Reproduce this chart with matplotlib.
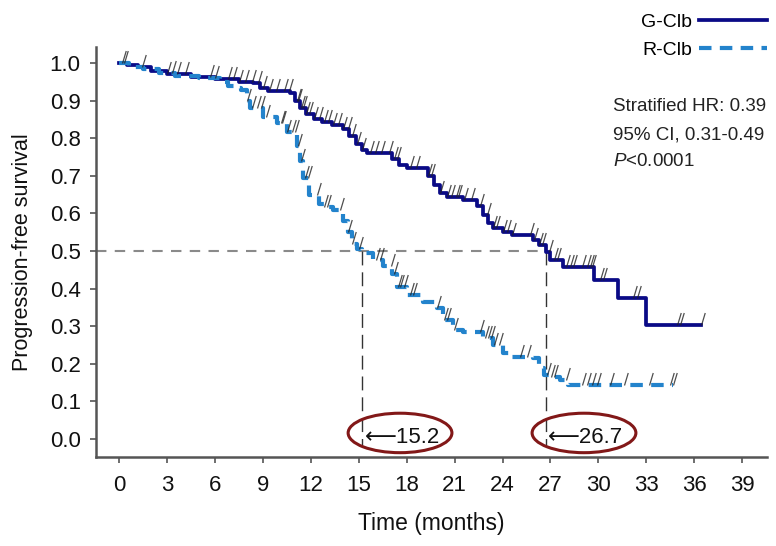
import numpy as np
import matplotlib
matplotlib.use("Agg")
import matplotlib.pyplot as plt
from matplotlib.patches import Ellipse

plt.rcParams['font.family'] = ['Liberation Sans', 'DejaVu Sans']
plt.rcParams['mathtext.fontset'] = 'custom'
plt.rcParams['mathtext.it'] = 'Liberation Sans:italic'
plt.rcParams['mathtext.rm'] = 'Liberation Sans'

# Kaplan-Meier steps (time in months, survival)
g_time = [0, 0.5, 1.2, 2.0, 3.0, 4.5, 6.0, 7.5, 8.4, 8.8, 9.3, 10.7, 11.0, 11.3, 11.7,
          12.2, 12.7, 13.3, 14.0, 14.4, 14.8, 15.2, 15.5, 17.1, 17.5, 18.0, 19.3, 19.7,
          20.1, 20.5, 21.5, 22.4, 22.8, 23.1, 23.4, 24.0, 24.6, 25.9, 26.3, 26.7, 27.0,
          27.8, 29.7, 31.2, 33.0]
g_surv = [1.0, 0.995, 0.99, 0.98, 0.97, 0.962, 0.957, 0.95, 0.947, 0.935, 0.925, 0.92,
          0.9, 0.88, 0.865, 0.85, 0.843, 0.835, 0.825, 0.805, 0.785, 0.77, 0.76, 0.745,
          0.73, 0.72, 0.70, 0.675, 0.655, 0.644, 0.635, 0.62, 0.595, 0.575, 0.56, 0.55,
          0.543, 0.53, 0.515, 0.497, 0.476, 0.458, 0.423, 0.375, 0.303]
g_end = 36.4

r_time = [0, 0.6, 1.5, 2.5, 3.5, 5.0, 6.3, 6.8, 7.3, 7.6, 8.0, 8.2, 9.0, 9.9, 10.5,
          11.1, 11.3, 11.5, 11.9, 12.5, 12.8, 13.4, 14.0, 14.3, 14.6, 14.9, 15.2, 15.9,
          16.5, 17.1, 17.4, 18.0, 19.0, 19.9, 20.3, 20.9, 21.5, 22.8, 23.4, 24.0, 24.5,
          25.9, 26.3, 26.6, 27.0, 27.6, 28.1]
r_surv = [1.0, 0.99, 0.985, 0.975, 0.965, 0.96, 0.95, 0.94, 0.933, 0.928, 0.9, 0.88,
          0.856, 0.84, 0.816, 0.78, 0.74, 0.694, 0.649, 0.625, 0.617, 0.609, 0.58, 0.55,
          0.52, 0.505, 0.494, 0.476, 0.46, 0.44, 0.405, 0.383, 0.364, 0.348, 0.316, 0.29,
          0.285, 0.268, 0.25, 0.229, 0.218, 0.215, 0.19, 0.17, 0.165, 0.157, 0.144]
r_end = 34.7

# censoring times
g_cens = [0.2, 1.4, 3.0, 3.6, 4.1, 5.7, 6.8, 7.1, 7.5, 7.9, 8.3, 8.7, 9.0, 9.4, 9.8,
          10.3, 10.6, 11.1, 11.2, 11.4, 11.5, 11.7, 11.9, 12.2, 12.5, 12.8, 13.1, 13.4,
          13.7, 14.0, 14.3, 14.6, 14.9, 15.2, 15.7, 16.0, 16.4, 16.9, 17.2, 17.4, 18.2,
          18.6, 19.3, 19.5, 20.1, 20.5, 20.8, 21.1, 21.2, 21.6, 22.0, 22.6, 23.0, 23.4,
          23.6, 24.0, 24.3, 24.6, 25.7, 26.0, 26.3, 26.5, 26.9, 27.2, 27.4, 28.0, 28.2,
          28.4, 29.0, 29.3, 29.5, 29.6, 30.1, 30.3, 32.2, 32.4, 34.9, 35.1, 36.4]
r_cens = [0.3, 3.3, 6.0, 8.0, 8.3, 8.6, 8.9, 9.2, 10.1, 10.2, 10.5, 10.8, 11.0, 11.2,
          11.35, 11.6, 11.8, 12.4, 12.8, 13.0, 13.8, 14.3, 14.6, 15.0, 16.1, 16.3, 17.0,
          17.2, 17.45, 17.6, 17.8, 18.2, 18.4, 19.9, 20.35, 20.5, 20.95, 22.6, 22.9, 23.1,
          23.3, 23.45, 23.8, 25.1, 25.5, 26.8, 27.05, 27.2, 28.0, 29.0, 29.3, 29.6, 29.9,
          30.7, 31.6, 33.2, 34.5, 34.7]

medians = [15.2, 26.7]
x_ticks = list(range(0, 40, 3))
y_ticks = [round(0.1 * i, 1) for i in range(11)]

g_color = '#0a0a86'
r_color = '#2383cc'


def surv_at(times, surv, t):
    idx = np.searchsorted(times, t, side='right') - 1
    return np.asarray(surv)[idx]


fig = plt.figure(figsize=(7.76, 5.46), dpi=100)
ax = fig.add_axes([0.1237, 0.163, 0.8647, 0.751])

# curves
ax.plot(g_time + [g_end], g_surv + [g_surv[-1]], drawstyle='steps-post',
        color=g_color, lw=2.7, label='G-Clb', zorder=4)
ax.plot(r_time + [r_end], r_surv + [r_surv[-1]], drawstyle='steps-post',
        color=r_color, lw=3.0, dashes=(3, 2), label='R-Clb', zorder=4)

# censor marks (slanted ticks)
tick = [(0, 0), (0.3, 1)]
ax.plot(g_cens, surv_at(g_time, g_surv, g_cens), ls='none', marker=tick, ms=18,
        mec='#222222', mew=0.9, alpha=0.8, zorder=5)
ax.plot(r_cens, surv_at(r_time, r_surv, r_cens), ls='none', marker=tick, ms=18,
        mec='#222222', mew=0.9, alpha=0.8, zorder=5)

# median lines
ax.plot([-1.46, medians[1]], [0.5, 0.5], color='#8a8a8a', lw=1.5, dashes=(5, 4), zorder=2)
for m in medians:
    ax.plot([m, m], [0.5, -0.015], color='#333333', lw=1.0, dashes=(10, 5), zorder=2)

for m, cx in zip(medians, [17.58, 29.1]):
    ax.text(m + 0.15, 0.004, '\u27f5' + f'{m}', fontsize=16, ha='left', va='center',
            color='#111111', zorder=6)
    ax.add_patch(Ellipse((cx, 0.016), 6.5, 0.105, fill=False, ec='#821818', lw=2.2,
                         zorder=6))

ax.text(30.9, 0.885, 'Stratified HR: 0.39', fontsize=13.5, va='center', color='#222222')
ax.text(30.9, 0.810, '95% CI, 0.31-0.49', fontsize=13.5, va='center', color='#222222')
ax.text(30.9, 0.737, '$\\mathit{P}$<0.0001', fontsize=13.5, va='center', color='#222222')

ax.set_xlim(-1.46, 40.56)
ax.set_ylim(-0.048, 1.043)
ax.set_xticks(x_ticks)
ax.set_yticks(y_ticks)
ax.set_yticklabels([f'{v:.1f}' for v in y_ticks])
ax.tick_params(direction='out', length=4, width=1.2, color='#555555', labelsize=16,
               labelcolor='#111111')
ax.tick_params(axis='x', pad=9)
ax.tick_params(axis='y', pad=7)
for s in ['top', 'right']:
    ax.spines[s].set_visible(False)
for s in ['left', 'bottom']:
    ax.spines[s].set_color('#555555')
    ax.spines[s].set_linewidth(1.8)

ax.set_ylabel('Progression-free survival', fontsize=15.5, color='#111111')
ax.yaxis.set_label_coords(-0.094, 0.5)
ax.set_xlabel('Time (months)', fontsize=16.5, color='#111111')
ax.xaxis.set_label_coords(0.5, -0.135)

leg = ax.legend(loc='upper right', bbox_to_anchor=(0.9884, 0.975),
                bbox_transform=fig.transFigure, frameon=False, markerfirst=False,
                fontsize=14, handlelength=3.5, handletextpad=0.35, borderpad=0,
                borderaxespad=0, labelspacing=0.5)

fig.savefig('out.png', dpi=100)
